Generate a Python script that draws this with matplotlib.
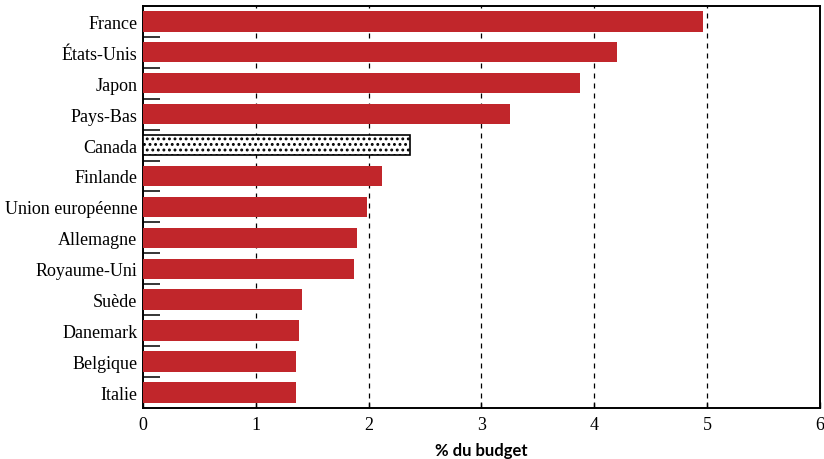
import matplotlib
matplotlib.use("Agg")
import matplotlib.pyplot as plt
from matplotlib.ticker import FixedLocator

# --- Data ---
pays = ["France", "États-Unis", "Japon", "Pays-Bas", "Canada", "Finlande",
        "Union européenne", "Allemagne", "Royaume-Uni", "Suède", "Danemark",
        "Belgique", "Italie"]
valeurs = [4.96, 4.20, 3.87, 3.25, 2.37, 2.12, 1.99, 1.90, 1.87, 1.41, 1.38, 1.36, 1.36]
x_ticks = [0, 1, 2, 3, 4, 5, 6]

ROUGE = "#C1262B"
plt.rcParams["hatch.linewidth"] = 1.3

fig = plt.figure(figsize=(8.24, 4.6), dpi=100)
ax = fig.add_axes([0.1735, 0.111, 0.8215, 0.874])

ypos = list(range(len(pays)))
for y, nom, v in zip(ypos, pays, valeurs):
    if nom == "Canada":
        ax.barh(y, v, height=0.66, color="white", edgecolor="black",
                hatch="...", linewidth=1.2, zorder=3)
    else:
        ax.barh(y, v, height=0.66, color=ROUGE, edgecolor="none", zorder=3)

ax.set_xlim(0, 6)
ax.set_ylim(len(pays) - 0.5, -0.5)

# dashed vertical grid
for x in x_ticks[1:-1]:
    ax.axvline(x, color="black", linestyle=(0, (4, 4)), linewidth=0.9, zorder=1)

ax.set_xticks(x_ticks)
ax.set_xticklabels([str(t) for t in x_ticks], family="Liberation Serif", fontsize=13)
ax.tick_params(axis="x", direction="in", length=4, width=1, pad=6)

ax.set_yticks(ypos)
ax.set_yticklabels(pays, family="Liberation Serif", fontsize=13)
ax.tick_params(axis="y", which="major", length=0, pad=4)
ax.yaxis.set_minor_locator(FixedLocator([i + 0.5 for i in range(len(pays) - 1)]))
ax.tick_params(axis="y", which="minor", direction="in", length=12.5, width=1.1)

for s in ax.spines.values():
    s.set_linewidth(1.4)

ax.set_xlabel("% du budget", family="Lato", fontweight="bold", fontsize=12, labelpad=6)

fig.savefig("out.png", dpi=100)
